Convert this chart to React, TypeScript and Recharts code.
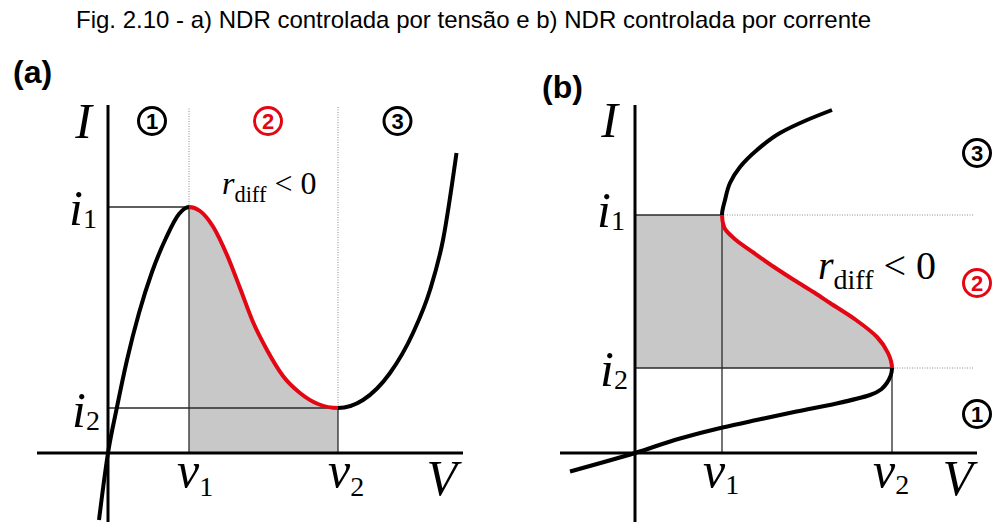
import React from 'react';
import { ComposedChart, Line, Area, XAxis, YAxis, ReferenceDot } from 'recharts';

// ---- Panel (a): voltage-controlled NDR, current I as a function of V ----
const curveA = [
  { v: -0.18, i: -1.34 }, { v: 0, i: 0 }, { v: 0.18, i: 0.92 }, { v: 0.38, i: 1.86 },
  { v: 0.62, i: 2.8 }, { v: 0.88, i: 3.62 }, { v: 1.16, i: 4.3 }, { v: 1.42, i: 4.78 },
  { v: 1.62, i: 4.92 },
  { v: 1.84, i: 4.84 }, { v: 2.1, i: 4.53 }, { v: 2.38, i: 3.96 }, { v: 2.64, i: 3.3 },
  { v: 2.9, i: 2.62 }, { v: 3.18, i: 2.06 }, { v: 3.5, i: 1.54 }, { v: 3.84, i: 1.2 },
  { v: 4.2, i: 0.98 }, { v: 4.6, i: 0.9 },
  { v: 5.1, i: 1.06 }, { v: 5.64, i: 1.6 }, { v: 6.1, i: 2.4 }, { v: 6.44, i: 3.26 },
  { v: 6.7, i: 4.26 }, { v: 6.97, i: 6.0 },
];
const A_V1 = 1.62;
const A_V2 = 4.6;
const A_I1 = 4.92;
const A_I2 = 0.9;
const A_AXIS_V = [-1.42, 7.1];
const A_AXIS_I = [-1.5, 6.96];
const A_GUIDE_TOP = 6.92;
const A_REGIONS = [
  { n: '1', v: 0.88, i: 6.64, red: false },
  { n: '2', v: 3.2, i: 6.64, red: true },
  { n: '3', v: 5.79, i: 6.64, red: false },
];
const A_RDIFF = { v: 2.28, i: 5.18 };

// ---- Panel (b): current-controlled NDR, V as a function of I ----
const curveB = [
  { v: -1.3, i: -0.37 }, { v: 0, i: 0 }, { v: 0.9, i: 0.29 }, { v: 1.75, i: 0.51 },
  { v: 2.43, i: 0.66 }, { v: 3.23, i: 0.83 }, { v: 4.03, i: 0.99 }, { v: 4.7, i: 1.16 },
  { v: 5.03, i: 1.39 }, { v: 5.14, i: 1.7 },
  { v: 5.06, i: 2.0 }, { v: 4.84, i: 2.32 }, { v: 4.42, i: 2.66 }, { v: 3.9, i: 3.0 },
  { v: 3.6, i: 3.2 }, { v: 3.18, i: 3.46 }, { v: 2.78, i: 3.72 }, { v: 2.38, i: 4.0 },
  { v: 2.02, i: 4.26 }, { v: 1.78, i: 4.52 }, { v: 1.74, i: 4.76 },
  { v: 1.8, i: 5.06 }, { v: 1.9, i: 5.4 }, { v: 2.1, i: 5.72 }, { v: 2.44, i: 6.06 },
  { v: 2.9, i: 6.4 }, { v: 3.44, i: 6.66 }, { v: 3.94, i: 6.86 },
];
const B_V1 = 1.74;
const B_V2 = 5.14;
const B_I1 = 4.76;
const B_I2 = 1.7;
const B_AXIS_V = [-1.5, 6.84];
const B_AXIS_I = [-1.5, 6.96];
const B_GUIDE_RIGHT = 6.76;
const B_REGIONS = [
  { n: '3', v: 6.84, i: 6.0, red: false },
  { n: '2', v: 6.84, i: 3.4, red: true },
  { n: '1', v: 6.84, i: 0.78, red: false },
];
const B_RDIFF = { v: 3.66, i: 3.48 };

const DOMAIN: [number, number] = [-1.5, 7.5];

const TITLE = 'Fig. 2.10 - a) NDR controlada por tensão e b) NDR controlada por corrente';

const SERIF = "'Liberation Serif', 'Times New Roman', serif";
const SANS = "'Liberation Sans', Arial, sans-serif";
const RED = '#e30613';
const GRAY = '#c8c8c8';
const GUIDE = '#2a2a2a';
const DOTS = '#8c8c8c';

type Pt = { v: number; i: number };
const seg = (a: Pt, b: Pt) => [a, b];

// Guide segments of panel (a)
const A_SOLID = [
  seg({ v: 0, i: A_I1 }, { v: A_V1, i: A_I1 }),
  seg({ v: 0, i: A_I2 }, { v: A_V2, i: A_I2 }),
  seg({ v: A_V1, i: 0 }, { v: A_V1, i: A_I1 }),
  seg({ v: A_V2, i: 0 }, { v: A_V2, i: A_I2 }),
];
const A_DOTTED = [
  seg({ v: A_V1, i: A_I1 }, { v: A_V1, i: A_GUIDE_TOP }),
  seg({ v: A_V2, i: A_I2 }, { v: A_V2, i: A_GUIDE_TOP }),
];
const A_AXES = [
  seg({ v: A_AXIS_V[0], i: 0 }, { v: A_AXIS_V[1], i: 0 }),
  seg({ v: 0, i: A_AXIS_I[0] }, { v: 0, i: A_AXIS_I[1] }),
];

// Guide segments of panel (b)
const B_SOLID = [
  seg({ v: 0, i: B_I1 }, { v: B_V1, i: B_I1 }),
  seg({ v: 0, i: B_I2 }, { v: B_V2, i: B_I2 }),
  seg({ v: B_V1, i: 0 }, { v: B_V1, i: B_I1 }),
  seg({ v: B_V2, i: 0 }, { v: B_V2, i: B_I2 }),
];
const B_DOTTED = [
  seg({ v: B_V1, i: B_I1 }, { v: B_GUIDE_RIGHT, i: B_I1 }),
  seg({ v: B_V2, i: B_I2 }, { v: B_GUIDE_RIGHT, i: B_I2 }),
];
const B_AXES = [
  seg({ v: B_AXIS_V[0], i: 0 }, { v: B_AXIS_V[1], i: 0 }),
  seg({ v: 0, i: B_AXIS_I[0] }, { v: 0, i: B_AXIS_I[1] }),
];

// Gradient break points: the NDR branch lies between (v1, i1) and (v2, i2)
const aVs = curveA.map((p) => p.v);
const aMin = Math.min(...aVs);
const aMax = Math.max(...aVs);
const fa1 = (A_V1 - aMin) / (aMax - aMin);
const fa2 = (A_V2 - aMin) / (aMax - aMin);

const bIs = curveB.map((p) => p.i);
const bMin = Math.min(...bIs);
const bMax = Math.max(...bIs);
const fb1 = (bMax - B_I1) / (bMax - bMin);
const fb2 = (bMax - B_I2) / (bMax - bMin);

function Bands({ id, f1, f2, out, inner, vertical }: any) {
  return (
    <linearGradient id={id} x1="0" y1="0" x2={vertical ? '0' : '1'} y2={vertical ? '1' : '0'}>
      <stop offset={0} stopColor={out.c} stopOpacity={out.o} />
      <stop offset={f1} stopColor={out.c} stopOpacity={out.o} />
      <stop offset={f1} stopColor={inner} stopOpacity={1} />
      <stop offset={f2} stopColor={inner} stopOpacity={1} />
      <stop offset={f2} stopColor={out.c} stopOpacity={out.o} />
      <stop offset={1} stopColor={out.c} stopOpacity={out.o} />
    </linearGradient>
  );
}

function MathText({ cx, cy, dx, dy, base, sub, anchor = 'start', size = 50, subSize = 28, subDy = 3 }: any) {
  return (
    <text x={cx + dx} y={cy + dy} textAnchor={anchor} fontFamily={SERIF} fontSize={size} fill="#000">
      <tspan fontStyle="italic">{base}</tspan>
      {sub ? (
        <tspan fontSize={subSize} dy={subDy}>
          {sub}
        </tspan>
      ) : null}
    </text>
  );
}

function RDiff({ cx, cy, size }: any) {
  const sub = size * 0.7;
  const shift = size * 0.25;
  return (
    <text x={cx} y={cy} fontFamily={SERIF} fontSize={size} fill="#000" style={{ whiteSpace: 'pre' }}>
      <tspan fontStyle="italic">r</tspan>
      <tspan fontSize={sub} dy={shift}>diff</tspan>
      <tspan dy={-shift}>{' < 0'}</tspan>
    </text>
  );
}

function Circled({ cx, cy, n, red }: any) {
  const c = red ? RED : '#000';
  return (
    <g>
      <circle cx={cx} cy={cy} r={13.5} fill="#fff" stroke={c} strokeWidth={3} />
      <text x={cx} y={cy + 8} textAnchor="middle" fontFamily={SANS} fontWeight={700} fontSize={22} fill={c}>
        {n}
      </text>
    </g>
  );
}

function at(key: string, x: number, y: number, render: (cx: number, cy: number) => React.ReactNode) {
  return (
    <ReferenceDot
      key={key}
      x={x}
      y={y}
      r={0}
      ifOverflow="visible"
      fill="none"
      stroke="none"
      shape={(p: any) => <g>{render(p.cx, p.cy)}</g>}
    />
  );
}

function segLines(prefix: string, segs: Pt[][], dataKey: string, style: any) {
  return segs.map((d, k) => (
    <Line
      key={`${prefix}${k}`}
      data={d}
      dataKey={dataKey}
      type="linear"
      dot={false}
      activeDot={false}
      isAnimationActive={false}
      {...style}
    />
  ));
}

const solidStyle = { stroke: GUIDE, strokeWidth: 1.3 };
const dottedStyle = { stroke: DOTS, strokeWidth: 1, strokeDasharray: '1 1.5' };
const axisStyle = { stroke: '#000', strokeWidth: 3 };

function PanelA() {
  return (
    <ComposedChart width={498} height={528} margin={{ top: 78, left: 33, right: 15, bottom: 0 }}>
      <defs>
        <Bands id="ndrA-stroke" f1={fa1} f2={fa2} out={{ c: '#000', o: 1 }} inner={RED} />
        <Bands id="ndrA-fill" f1={fa1} f2={fa2} out={{ c: '#fff', o: 0 }} inner={GRAY} />
      </defs>
      <XAxis type="number" dataKey="v" domain={DOMAIN} allowDataOverflow hide height={0} />
      <YAxis type="number" domain={DOMAIN} allowDataOverflow hide width={0} />
      <Area
        data={curveA}
        dataKey="i"
        type="monotone"
        baseValue={0}
        stroke="none"
        fill="url(#ndrA-fill)"
        fillOpacity={1}
        dot={false}
        activeDot={false}
        isAnimationActive={false}
      />
      {segLines('ad', A_DOTTED, 'i', dottedStyle)}
      {segLines('as', A_SOLID, 'i', solidStyle)}
      <Line
        data={curveA}
        dataKey="i"
        type="monotone"
        stroke="url(#ndrA-stroke)"
        strokeWidth={4}
        dot={false}
        activeDot={false}
        isAnimationActive={false}
      />
      {segLines('ax', A_AXES, 'i', axisStyle)}
      {at('aI', 0, A_AXIS_I[1], (cx, cy) => <MathText cx={cx} cy={cy} dx={-16} dy={33} base="I" anchor="end" />)}
      {at('ai1', 0, A_I1, (cx, cy) => <MathText cx={cx} cy={cy} dx={-11} dy={18} base="i" sub="1" anchor="end" />)}
      {at('ai2', 0, A_I2, (cx, cy) => <MathText cx={cx} cy={cy} dx={-8} dy={19} base="i" sub="2" anchor="end" />)}
      {at('av1', A_V1, 0, (cx, cy) => <MathText cx={cx} cy={cy} dx={-12} dy={34} base="v" sub="1" subDy={9} />)}
      {at('av2', A_V2, 0, (cx, cy) => <MathText cx={cx} cy={cy} dx={-10} dy={34} base="v" sub="2" subDy={9} />)}
      {at('aV', A_AXIS_V[1], 0, (cx, cy) => <MathText cx={cx} cy={cy} dx={-6} dy={42} base="V" anchor="end" />)}
      {at('ar', A_RDIFF.v, A_RDIFF.i, (cx, cy) => <RDiff cx={cx} cy={cy} size={32} />)}
      {A_REGIONS.map((r) => at(`ac${r.n}`, r.v, r.i, (cx, cy) => <Circled cx={cx} cy={cy} n={r.n} red={r.red} />))}
    </ComposedChart>
  );
}

function PanelB() {
  return (
    <ComposedChart
      layout="vertical"
      width={512}
      height={528}
      margin={{ top: 78, left: 62, right: 0, bottom: 0 }}
    >
      <defs>
        <Bands id="ndrB-stroke" f1={fb1} f2={fb2} out={{ c: '#000', o: 1 }} inner={RED} vertical />
        <Bands id="ndrB-fill" f1={fb1} f2={fb2} out={{ c: '#fff', o: 0 }} inner={GRAY} vertical />
      </defs>
      <XAxis type="number" domain={DOMAIN} allowDataOverflow hide height={0} />
      <YAxis type="number" dataKey="i" domain={DOMAIN} allowDataOverflow reversed hide width={0} />
      <Area
        data={curveB}
        dataKey="v"
        type="monotone"
        baseValue={0}
        stroke="none"
        fill="url(#ndrB-fill)"
        fillOpacity={1}
        dot={false}
        activeDot={false}
        isAnimationActive={false}
      />
      {segLines('bd', B_DOTTED, 'v', dottedStyle)}
      {segLines('bs', B_SOLID, 'v', solidStyle)}
      <Line
        data={curveB}
        dataKey="v"
        type="monotone"
        stroke="url(#ndrB-stroke)"
        strokeWidth={4}
        dot={false}
        activeDot={false}
        isAnimationActive={false}
      />
      {segLines('bx', B_AXES, 'v', axisStyle)}
      {at('bI', 0, B_AXIS_I[1], (cx, cy) => <MathText cx={cx} cy={cy} dx={-17} dy={32} base="I" anchor="end" />)}
      {at('bi1', 0, B_I1, (cx, cy) => <MathText cx={cx} cy={cy} dx={-10} dy={12} base="i" sub="1" anchor="end" />)}
      {at('bi2', 0, B_I2, (cx, cy) => <MathText cx={cx} cy={cy} dx={-7} dy={18} base="i" sub="2" anchor="end" />)}
      {at('bv1', B_V1, 0, (cx, cy) => <MathText cx={cx} cy={cy} dx={-19} dy={34} base="v" sub="1" subDy={7} />)}
      {at('bv2', B_V2, 0, (cx, cy) => <MathText cx={cx} cy={cy} dx={-19} dy={34} base="v" sub="2" subDy={7} />)}
      {at('bV', B_AXIS_V[1], 0, (cx, cy) => <MathText cx={cx} cy={cy} dx={-4} dy={42} base="V" anchor="end" />)}
      {at('br', B_RDIFF.v, B_RDIFF.i, (cx, cy) => <RDiff cx={cx} cy={cy} size={40} />)}
      {B_REGIONS.map((r) => at(`bc${r.n}`, r.v, r.i, (cx, cy) => <Circled cx={cx} cy={cy} n={r.n} red={r.red} />))}
    </ComposedChart>
  );
}

export default function App() {
  return (
    <div
      style={{
        position: 'absolute',
        left: 0,
        top: 0,
        width: 997,
        height: 522,
        overflow: 'hidden',
        background: '#fff',
      }}
    >
      <svg width={997} height={522} style={{ position: 'absolute', left: 0, top: 0 }}>
        <text x={76} y={28} fontFamily={SANS} fontSize={24} fill="#000">
          {TITLE}
        </text>
        <text x={13} y={83} fontFamily={SANS} fontWeight={700} fontSize={32} fill="#000">
          (a)
        </text>
        <text x={542} y={98} fontFamily={SANS} fontWeight={700} fontSize={32} fill="#000">
          (b)
        </text>
      </svg>
      <div style={{ position: 'absolute', left: 0, top: 0 }}>
        <PanelA />
      </div>
      <div style={{ position: 'absolute', left: 498, top: 0 }}>
        <PanelB />
      </div>
    </div>
  );
}
